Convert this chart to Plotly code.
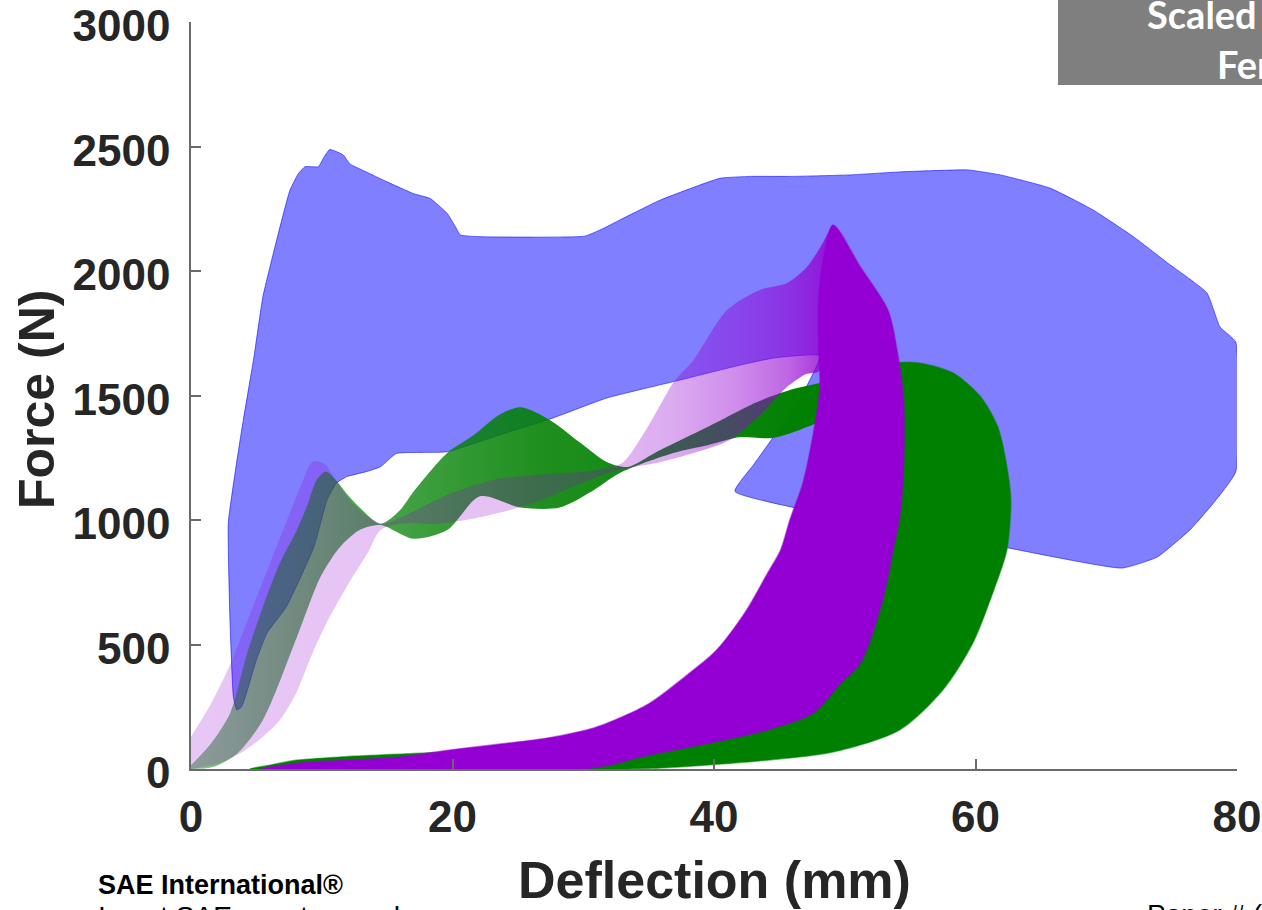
import plotly.graph_objects as go

# ---------------- corridor data (deflection mm, force N) ----------------
# Blue corridor: closed outline (outer loading/unloading envelope + inner boundary)
blue_x = [2.85, 3.4, 4.0, 4.8, 5.5, 6.55, 7.57, 8.2, 8.72, 9.74, 10.2, 10.6, 11.1, 11.65, 12.16,
          13.4, 15.0, 17.0, 18.3, 19.6, 20.2, 20.6, 22.1, 30.1, 31.5, 32.8, 35.9, 38.9, 40.5,
          42.8, 46.0, 50.4, 54.2, 59.4, 61.9, 65.7, 69.0, 72.1, 74.7, 77.7, 78.7, 79.9, 79.9,
          78.2, 76.4, 73.9, 71.2, 62.1, 41.6, 43.0, 44.5, 46.5, 48.1, 44.5, 42.0, 37.4, 31.8,
          27.7, 23.5, 19.6, 15.7, 14.5, 13.4, 11.9, 11.1, 10.4, 9.4, 7.3, 5.8, 5.0, 3.88, 3.5,
          3.24, 2.98, 2.85]
blue_y = [987, 1200, 1402, 1650, 1897, 2124, 2325, 2390, 2419, 2419, 2460, 2488, 2480, 2466, 2430,
          2398, 2358, 2311, 2291, 2231, 2180, 2145, 2138, 2140, 2170, 2205, 2285, 2345, 2373,
          2380, 2380, 2386, 2398, 2406, 2386, 2333, 2245, 2137, 2032, 1912, 1775, 1715, 1193,
          1068, 960, 851, 807, 892, 1115, 1220, 1330, 1480, 1660, 1650, 1622, 1562, 1490,
          1410, 1340, 1274, 1267, 1214, 1194, 1174, 1147, 1080, 892, 652, 545, 438, 250, 237,
          290, 598, 987]

# Green corridor, loading phase
green_load_upper_x = [0, 1.5, 3.0, 4.3, 5.5, 6.8, 8.1, 8.9, 9.6, 10.3, 11.1, 12.0, 12.9, 14.5,
                      16.0, 17.0, 19.6, 21.6, 23.5, 25.2, 27.5, 29.8, 31.8, 33.4, 35.6, 39.5,
                      43.3, 45.8, 48.1, 48.5]
green_load_upper_y = [15, 100, 225, 466, 651, 827, 960, 1060, 1160, 1195, 1160, 1100, 1050, 985,
                      1040, 1112, 1269, 1340, 1420, 1453, 1400, 1309, 1233, 1213, 1273, 1373,
                      1474, 1522, 1550, 1555]
green_load_lower_x = [0, 1.7, 3.5, 5.5, 8.1, 9.9, 11.4, 12.9, 14.5, 17.0, 19.6, 22.1, 25.2, 28.2,
                      30.5, 32.8, 36.9, 39.5, 42.0, 44.5, 47.1, 48.5]
green_load_lower_y = [0, 8, 60, 197, 530, 771, 892, 960, 980, 925, 960, 1095, 1050, 1050,
                      1110, 1189, 1269, 1300, 1333, 1329, 1373, 1414]

# Green corridor, unloading phase
green_unload_outer_x = [48.1, 50.0, 52.0, 54.0, 55.8, 58.3, 60.4, 61.7, 62.4, 62.7, 62.4, 61.4,
                        59.8, 57.5, 54.2, 49.1, 44.0, 40.0, 35.9, 33.0]
green_unload_outer_y = [1550, 1595, 1620, 1632, 1630, 1590, 1494, 1374, 1213, 1080, 880, 719,
                        506, 317, 157, 68, 35, 18, 4, 0]
green_unload_inner_x = [4.5, 6.0, 8.0, 12.0, 17.0, 22.0, 26.0, 30.0, 35.0, 40.0, 44.0, 46.5,
                        48.0, 48.1]
green_unload_inner_y = [0, 15, 35, 50, 62, 75, 95, 120, 230, 420, 700, 1000, 1300, 1414]

# Purple corridor, loading phase
purple_load_upper_x = [0, 1.5, 3.0, 4.5, 6.0, 7.5, 8.5, 9.3, 10.2, 11.2, 12.5, 14.5, 16.0, 18.0,
                       20.0, 23.0, 26.0, 29.0, 31.5, 33.0, 35.0, 37.0, 38.4, 41.0, 43.5, 45.6,
                       47.1, 48.3, 49.1]
purple_load_upper_y = [130, 260, 420, 620, 820, 1020, 1150, 1235, 1225, 1150, 1060, 985, 1010,
                       1060, 1110, 1160, 1180, 1190, 1205, 1230, 1380, 1560, 1640, 1843, 1924,
                       1952, 2016, 2110, 2185]
purple_load_lower_x = [0, 2.0, 4.0, 5.5, 6.8, 8.0, 9.3, 10.5, 11.9, 13.5, 14.5, 16.0, 19.0, 22.0,
                       26.2, 29.0, 32.6, 35.6, 38.5, 41.2, 43.5, 45.5, 47.0, 48.1]
purple_load_lower_y = [0, 20, 70, 130, 197, 300, 466, 600, 731, 867, 960, 985, 985, 1010,
                       1068, 1130, 1200, 1229, 1270, 1321, 1420, 1530, 1585, 1600]

# Purple corridor, unloading phase
purple_unload_outer_x = [49.1, 51.2, 53.3, 54.0, 54.5, 54.5, 54.2, 53.7, 52.9, 51.2, 49.7, 47.6,
                         44.1, 38.9, 34.4, 32.0, 30.0]
purple_unload_outer_y = [2185, 2016, 1843, 1683, 1482, 1213, 1012, 880, 679, 426, 345, 225,
                         157, 96, 48, 15, 0]
purple_unload_inner_x = [5.4, 8.3, 12.2, 16.0, 19.8, 23.6, 27.2, 30.8, 33.0, 35.1, 38.0, 40.2,
                         42.5, 44.1, 45.1, 45.8, 46.8, 47.6, 48.1, 48.0, 48.0, 48.4, 49.1]
purple_unload_inner_y = [0, 24, 36, 48, 76, 100, 124, 165, 210, 265, 380, 478,
                         639, 787, 880, 1000, 1149, 1349, 1534, 1700, 1884, 2060, 2185]

x_ticks = [0, 20, 40, 60, 80]
y_ticks = [0, 500, 1000, 1500, 2000, 2500, 3000]

# ---------------- page geometry ----------------
W, H = 1262, 910
L, R, T, B = 191, 25, 22, 141


def px(xp):
    return (xp - L) / (W - L - R)


def py(yp):
    return (H - B - yp) / (H - T - B)


def band(ux, uy, lx, ly):
    return list(ux) + list(reversed(lx)), list(uy) + list(reversed(ly))


fig = go.Figure()

# blue corridor
fig.add_trace(go.Scatter(
    x=blue_x, y=blue_y, mode="lines", fill="toself",
    fillcolor="rgba(0,0,255,0.5)",
    line=dict(color="rgba(0,0,255,0.55)", width=1, shape="spline", smoothing=0.4),
    hoverinfo="skip", showlegend=False))

# green loading band (semi-transparent, denser toward peak)
gx, gy = band(green_load_upper_x, green_load_upper_y, green_load_lower_x, green_load_lower_y)
fig.add_trace(go.Scatter(
    x=gx, y=gy, mode="lines", fill="toself",
    line=dict(width=0, color="rgba(0,128,0,0)", shape="spline", smoothing=0.8),
    fillgradient=dict(type="horizontal", start=0, stop=48.5,
                      colorscale=[[0, "rgba(0,128,0,0.45)"], [0.3, "rgba(0,128,0,0.72)"],
                                  [0.55, "rgba(0,128,0,0.88)"], [1, "rgba(0,128,0,1)"]]),
    hoverinfo="skip", showlegend=False))

# green unloading band
ux, uy = band(green_unload_outer_x, green_unload_outer_y,
              list(reversed(green_unload_inner_x)), list(reversed(green_unload_inner_y)))
fig.add_trace(go.Scatter(
    x=ux, y=uy, mode="lines", fill="toself", fillcolor="rgb(0,128,0)",
    line=dict(color="rgba(0,128,0,0.5)", width=1.5, shape="spline", smoothing=0.8),
    hoverinfo="skip", showlegend=False))

# purple loading band (translucent, saturating toward the peak)
pxs, pys = band(purple_load_upper_x, purple_load_upper_y, purple_load_lower_x, purple_load_lower_y)
fig.add_trace(go.Scatter(
    x=pxs, y=pys, mode="lines", fill="toself",
    line=dict(width=0, color="rgba(148,0,211,0)", shape="spline", smoothing=0.8),
    fillgradient=dict(type="horizontal", start=0, stop=49.1,
                      colorscale=[[0, "rgba(148,0,211,0.22)"], [0.6, "rgba(148,0,211,0.25)"],
                                  [0.75, "rgba(148,0,211,0.33)"], [0.85, "rgba(148,0,211,0.45)"],
                                  [0.93, "rgba(148,0,211,0.6)"], [1, "rgba(148,0,211,0.85)"]]),
    hoverinfo="skip", showlegend=False))

# purple unloading band
qx, qy = band(purple_unload_outer_x, purple_unload_outer_y,
              list(reversed(purple_unload_inner_x)), list(reversed(purple_unload_inner_y)))
fig.add_trace(go.Scatter(
    x=qx, y=qy, mode="lines", fill="toself", fillcolor="rgb(148,0,211)",
    line=dict(color="rgba(148,0,211,0.5)", width=1.5, shape="spline", smoothing=0.8),
    hoverinfo="skip", showlegend=False))

axis_font = dict(family="Liberation Sans, Arial, sans-serif", size=44, color="#262626", weight=700)
axis_common = dict(showgrid=False, zeroline=False, showline=True, linecolor="#6a6a6a", linewidth=1.5,
                   ticks="inside", ticklen=10, tickwidth=1.5, tickcolor="#6a6a6a",
                   tickfont=axis_font, mirror=False, automargin=False, ticklabeloverflow="allow")

fig.update_xaxes(range=[0, 80], tickvals=x_ticks, ticklabelstandoff=8, **axis_common)
fig.update_yaxes(range=[0, 3000], tickvals=y_ticks, ticklabelstandoff=10, ticklabelshift=4,
                 **axis_common)

title_font = dict(family="Liberation Sans, Arial, sans-serif", size=50, color="#262626", weight=700)
annotations = [
    dict(text="Force (N)", x=px(37), y=py(400), textangle=-90, font=title_font),
    dict(text="Deflection (mm)", x=px(714), y=py(880), font=dict(title_font, size=52)),
    dict(text="Scaled 5th", x=px(1145), y=py(14), xanchor="left",
         font=dict(family="Lato, sans-serif", size=38, color="white", weight=700)),
    dict(text="Female", x=px(1215), y=py(64), xanchor="left",
         font=dict(family="Lato, sans-serif", size=38, color="white", weight=700)),
    dict(text="SAE International®", x=px(96), y=py(885), xanchor="left",
         font=dict(family="Liberation Sans, Arial, sans-serif", size=27, color="black", weight=700)),
    dict(text="Insert SAE event name here", x=px(96), y=py(916), xanchor="left",
         font=dict(family="Liberation Sans, Arial, sans-serif", size=28, color="black")),
    dict(text="Paper # (if applicable)", x=px(1145), y=py(914), xanchor="left",
         font=dict(family="Liberation Sans, Arial, sans-serif", size=28, color="black")),
]
for a in annotations:
    a.update(xref="paper", yref="paper", showarrow=False)
    a.setdefault("xanchor", "center")
    a.setdefault("yanchor", "middle")

fig.update_layout(
    width=W, height=H, margin=dict(l=L, r=R, t=T, b=B, pad=0, autoexpand=False),
    paper_bgcolor="white", plot_bgcolor="white",
    annotations=annotations,
    shapes=[dict(type="rect", xref="paper", yref="paper", x0=px(1058), x1=px(1300),
                 y0=py(85), y1=py(-10), fillcolor="#7f7f7f", line=dict(width=0), layer="above")],
)

fig.write_html("out.html")
